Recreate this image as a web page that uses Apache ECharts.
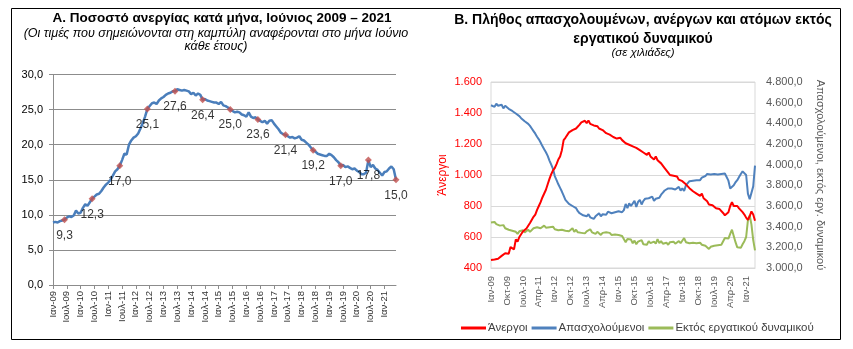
<!DOCTYPE html>
<html><head><meta charset="utf-8">
<script src="https://cdn.jsdelivr.net/npm/echarts@6/dist/echarts.min.js"></script>
<style>html,body{margin:0;padding:0;background:#fff}#c{width:853px;height:349px}</style>
</head><body><div id="c"></div><script>
// Months and years used to build the category labels
const monthNames = ['Ιαν','Φεβ','Μαρ','Απρ','Μαϊ','Ιουν','Ιουλ','Αυγ','Σεπ','Οκτ','Νοε','Δεκ'];
const years = ['09','10','11','12','13','14','15','16','17','18','19','20','21'];
const lastMonthIndex = 5; // June 2021

// Unemployment rate (%), monthly Jan 2009 – Jun 2021
const unemploymentRate = [
  8.9, 9.0, 8.9, 9.1, 9.2, 9.3, 9.6, 9.8, 9.7, 9.9, 10.6, 10.2,
  10.3, 11.0, 11.5, 11.3, 11.8, 12.3, 12.6, 12.9, 13.0, 13.4, 13.9, 14.3,
  14.6, 15.0, 15.6, 16.2, 16.5, 17.0, 17.8, 18.7, 18.6, 20.0, 20.6, 21.0,
  21.2, 21.6, 22.3, 23.1, 24.0, 25.1, 25.5, 25.9, 26.0, 25.8, 26.3, 26.6,
  26.8, 27.1, 27.3, 27.4, 27.6, 27.6, 27.9, 27.8, 27.7, 27.8, 27.7, 27.6,
  27.2, 27.4, 27.0, 27.3, 27.1, 26.4, 26.5, 26.3, 26.2, 26.1, 26.0, 26.0,
  25.8, 26.1, 25.6, 25.5, 25.3, 25.0, 24.8, 24.6, 24.7, 24.6, 24.3, 24.2,
  24.0, 24.6, 24.0, 23.8, 23.9, 23.6, 23.4, 23.2, 23.4, 23.0, 23.4, 23.5,
  23.0, 22.6, 22.2, 21.7, 21.5, 21.4, 21.2, 21.0, 21.1, 20.9, 21.0, 21.2,
  20.7, 20.6, 20.3, 20.0, 19.6, 19.2, 19.0, 18.7, 18.6, 18.5, 18.4, 18.4,
  18.7, 18.5, 18.2, 17.8, 17.5, 17.0, 17.1, 16.8, 16.9, 16.7, 16.5, 16.6,
  16.3, 16.1, 15.8, 15.8, 16.0, 17.8, 16.8, 17.1, 16.6, 16.4, 16.0, 15.6,
  16.1, 16.2, 16.6, 16.9, 16.5, 15.0
];

// Unemployed (thousands)
const unemployed = [
  452,448,455,452,460,470,478,470,495,505,492,535,
  545,520,585,570,600,612,635,640,655,660,690,700,
  730,745,775,800,825,855,850,905,940,975,1005,1030,
  1045,1070,1100,1120,1160,1225,1240,1250,1275,1265,1290,1285,
  1300,1310,1325,1340,1345,1350,1335,1352,1330,1335,1320,1310,
  1315,1300,1310,1290,1280,1270,1265,1260,1255,1245,1250,1235,
  1230,1240,1225,1230,1205,1200,1195,1190,1185,1180,1175,1170,
  1160,1165,1145,1140,1130,1145,1120,1130,1100,1120,1095,1090,
  1075,1080,1045,1050,1015,1000,1005,995,1000,990,970,975,
  960,950,940,930,915,905,895,890,880,870,865,880,
  850,840,830,810,800,805,795,785,790,780,770,755,
  740,740,760,800,825,800,790,800,785,775,760,745,
  725,710,735,765,745,705
];

// Employed (thousands)
const employed = [
  4575,4580,4560,4590,4570,4555,4580,4545,4570,4560,4540,4535,
  4520,4510,4495,4480,4470,4450,4440,4420,4405,4395,4375,4350,
  4325,4300,4270,4245,4215,4180,4150,4120,4085,4040,4000,3960,
  3890,3850,3810,3775,3740,3700,3660,3640,3620,3630,3600,3590,
  3580,3550,3530,3535,3510,3515,3500,3520,3490,3505,3475,3500,
  3510,3530,3500,3520,3525,3515,3545,3540,3530,3545,3540,3535,
  3550,3545,3540,3560,3620,3580,3625,3600,3615,3650,3590,3640,
  3660,3615,3650,3670,3655,3675,3660,3690,3650,3670,3660,3680,
  3710,3730,3750,3760,3770,3775,3770,3780,3760,3770,3785,3750,
  3770,3745,3800,3810,3840,3855,3845,3860,3850,3865,3850,3875,
  3870,3890,3910,3915,3905,3920,3910,3915,3905,3920,3910,3900,
  3915,3900,3845,3770,3760,3800,3830,3850,3880,3910,3935,3920,
  3900,3720,3665,3665,3790,3990
];

// Outside the labour force (thousands)
const outsideLabourForce = [
  3440,3435,3445,3425,3430,3410,3405,3415,3385,3395,3370,3385,
  3360,3345,3350,3330,3355,3350,3365,3345,3355,3370,3350,3365,
  3385,3370,3395,3400,3385,3400,3410,3390,3405,3395,3380,3400,
  3375,3390,3365,3380,3370,3385,3360,3370,3355,3360,3385,3350,
  3370,3345,3360,3340,3355,3335,3355,3340,3375,3345,3360,3330,
  3350,3335,3320,3340,3325,3345,3330,3340,3320,3335,3325,3330,
  3320,3330,3310,3300,3250,3280,3265,3275,3240,3265,3230,3255,
  3240,3270,3230,3245,3225,3260,3240,3230,3255,3235,3280,3240,
  3260,3235,3220,3245,3225,3250,3240,3255,3235,3245,3260,3240,
  3250,3290,3250,3235,3240,3230,3245,3235,3240,3230,3245,3225,
  3240,3215,3200,3185,3205,3195,3215,3200,3220,3205,3225,3210,
  3290,3300,3285,3330,3370,3310,3250,3200,3185,3195,3230,3260,
  3300,3460,3510,3420,3270,3170
];

// Category labels (e.g. "Ιαν-09")
const categories = [];
years.forEach((y, yi) => {
  monthNames.forEach((m, mi) => {
    if (yi === years.length - 1 && mi > lastMonthIndex) return;
    categories.push(m + '-' + y);
  });
});

// June of each year gets a marker with its value
const juneMarkers = unemploymentRate.map((v, i) => (i % 12 === 5 ? v : '-'));

const FONT = 'Liberation Sans';
const comma1 = v => v.toFixed(1).replace('.', ',');
const thousands = v => String(v).replace(/\B(?=(\d{3})+(?!\d))/g, '.');

const chart = echarts.init(document.getElementById('c'), null, { renderer: 'canvas' });
chart.setOption({
  backgroundColor: '#ffffff',
  animation: false,
  textStyle: { fontFamily: FONT },
  title: [
    { text: 'Α. Ποσοστό ανεργίας κατά μήνα, Ιούνιος 2009 – 2021', left: 217, top: 6, textAlign: 'center',
      textStyle: { fontFamily: FONT, fontSize: 13.5, fontWeight: 'bold', color: '#000' } },
    { text: '(Οι τιμές που σημειώνονται στη καμπύλη αναφέρονται στο μήνα Ιούνιο\nκάθε έτους)', left: 211, top: 22, textAlign: 'center',
      textStyle: { fontFamily: FONT, fontSize: 12.5, fontStyle: 'italic', fontWeight: 'normal', color: '#000', lineHeight: 13 } },
    { text: 'Β. Πλήθος απασχολουμένων, ανέργων και ατόμων εκτός\nεργατικού δυναμικού', left: 638, top: 6, textAlign: 'center',
      textStyle: { fontFamily: FONT, fontSize: 14, fontWeight: 'bold', color: '#000', lineHeight: 19 } },
    { text: '(σε χιλιάδες)', left: 638, top: 42, textAlign: 'center',
      textStyle: { fontFamily: FONT, fontSize: 11.5, fontStyle: 'italic', fontWeight: 'normal', color: '#000' } }
  ],
  graphic: [
    { type: 'rect', shape: { x: 11.5, y: 8.5, width: 829, height: 331 }, style: { fill: 'none', stroke: '#000', lineWidth: 1 }, silent: true }
  ],
  legend: {
    left: 456, top: 317, itemWidth: 25, itemHeight: 3, itemGap: 4,
    icon: 'rect',
    textStyle: { fontFamily: FONT, fontSize: 11.5, color: '#404040', padding: [0, 0, 0, -3] },
    data: ['Άνεργοι', 'Απασχολούμενοι', 'Εκτός εργατικού δυναμικού']
  },
  grid: [
    { left: 53, right: 457, top: 74.5, bottom: 64 },
    { left: 491, right: 98, top: 82, bottom: 81, show: true, borderColor: '#d9d9d9', borderWidth: 1 }
  ],
  xAxis: [
    { type: 'category', gridIndex: 0, data: categories, boundaryGap: false,
      axisLine: { lineStyle: { color: '#8c8c8c' } },
      axisTick: { show: true, interval: 5, length: 4, lineStyle: { color: '#8c8c8c' } },
      axisLabel: { interval: 5, rotate: 90, fontSize: 9.5, color: '#333', fontFamily: FONT, margin: 6 } },
    { type: 'category', gridIndex: 1, data: categories, boundaryGap: false,
      axisLine: { lineStyle: { color: '#d9d9d9' } },
      axisTick: { show: false },
      axisLabel: { interval: 8, rotate: 90, fontSize: 9.5, color: '#595959', fontFamily: FONT, margin: 8 } }
  ],
  yAxis: [
    { type: 'value', gridIndex: 0, min: 0, max: 30, interval: 5,
      axisLine: { show: true, lineStyle: { color: '#8c8c8c' } },
      axisTick: { show: true, length: 4, lineStyle: { color: '#8c8c8c' } },
      splitLine: { lineStyle: { color: '#8c8c8c', width: 1 } },
      axisLabel: { formatter: comma1, fontSize: 11, color: '#000', fontFamily: FONT, margin: 10 } },
    { type: 'value', gridIndex: 1, position: 'left', min: 400, max: 1600, interval: 200,
      name: 'Άνεργοι', nameLocation: 'middle', nameGap: 42, nameRotate: 90,
      nameTextStyle: { color: '#ff0000', fontSize: 12, fontFamily: FONT },
      axisLine: { show: false }, axisTick: { show: false },
      splitLine: { lineStyle: { color: '#d9d9d9' } },
      axisLabel: { formatter: thousands, fontSize: 11, color: '#ff0000', fontFamily: FONT, margin: 9 } },
    { type: 'value', gridIndex: 1, position: 'right', min: 3000, max: 4800, interval: 200,
      name: 'Απασχολούμενοι, εκτός εργ. δυναμικού', nameLocation: 'middle', nameGap: 60, nameRotate: -90,
      nameTextStyle: { color: '#595959', fontSize: 11, fontFamily: FONT },
      axisLine: { show: false }, axisTick: { show: false },
      splitLine: { show: false },
      axisLabel: { formatter: v => thousands(v) + ',0', fontSize: 11, color: '#595959', fontFamily: FONT, margin: 11 } }
  ],
  series: [
    { name: 'Ποσοστό ανεργίας', type: 'line', xAxisIndex: 0, yAxisIndex: 0, data: unemploymentRate,
      showSymbol: false, lineStyle: { color: '#4a7ebb', width: 2.5 }, itemStyle: { color: '#4a7ebb' }, z: 2 },
    { name: 'Ιούνιος', type: 'scatter', xAxisIndex: 0, yAxisIndex: 0, data: juneMarkers,
      symbol: 'diamond', symbolSize: 7, itemStyle: { color: '#c0504d' }, z: 3,
      label: { show: true, position: 'bottom', distance: 6, formatter: p => comma1(p.value),
               fontSize: 12, color: '#000', fontFamily: FONT } },
    { name: 'Άνεργοι', type: 'line', xAxisIndex: 1, yAxisIndex: 1, data: unemployed,
      showSymbol: false, lineStyle: { color: '#ff0000', width: 2 }, itemStyle: { color: '#ff0000' }, z: 4 },
    { name: 'Απασχολούμενοι', type: 'line', xAxisIndex: 1, yAxisIndex: 2, data: employed,
      showSymbol: false, lineStyle: { color: '#4f81bd', width: 2 }, itemStyle: { color: '#4f81bd' }, z: 3 },
    { name: 'Εκτός εργατικού δυναμικού', type: 'line', xAxisIndex: 1, yAxisIndex: 2, data: outsideLabourForce,
      showSymbol: false, lineStyle: { color: '#9bbb59', width: 2 }, itemStyle: { color: '#9bbb59' }, z: 2 }
  ]
});
</script></body></html>
